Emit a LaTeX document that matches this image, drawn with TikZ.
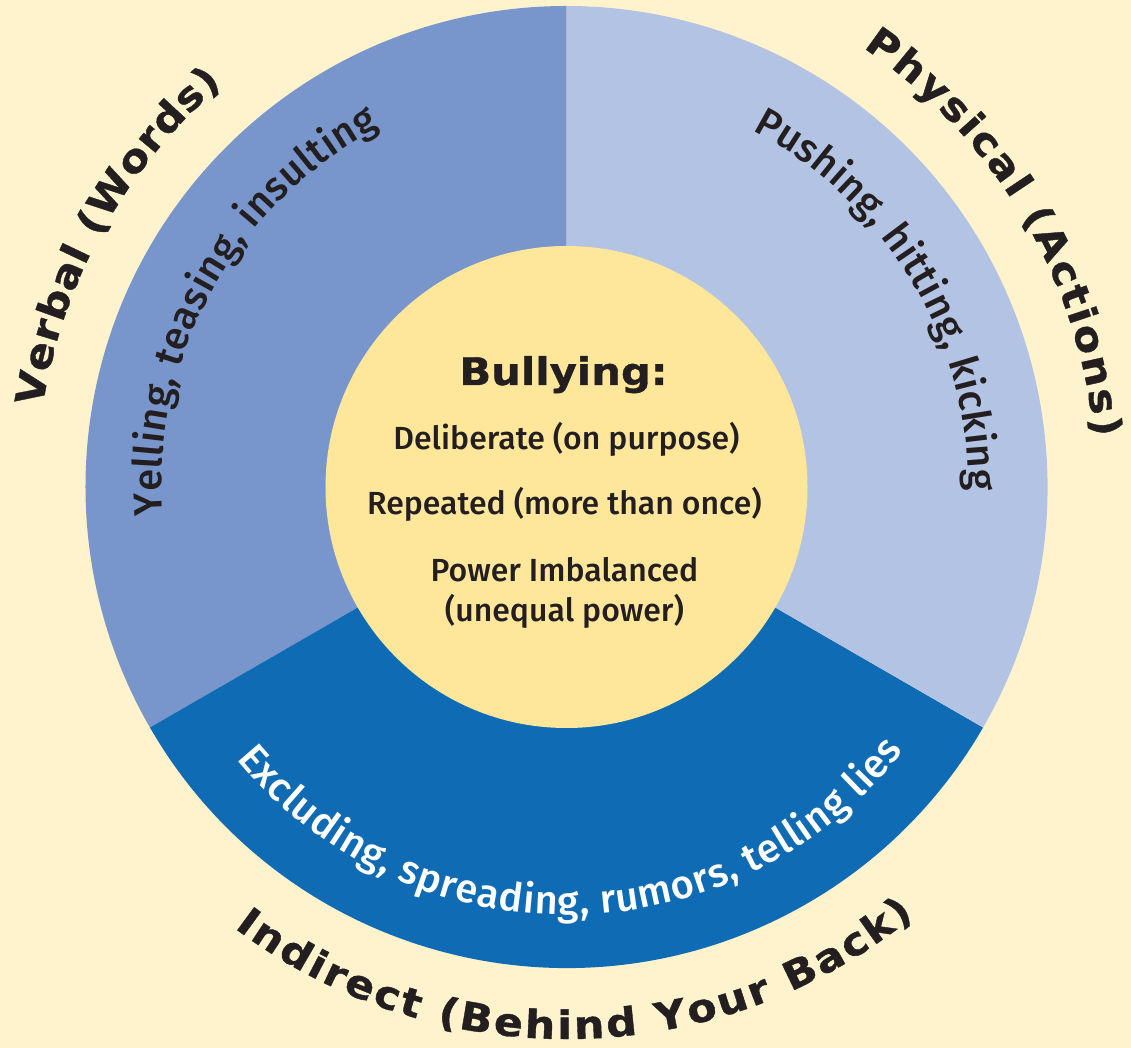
\documentclass[tikz,border=0pt]{standalone}
\usepackage{fontspec}
\usetikzlibrary{decorations.text}
\newfontfamily\widefont[FakeStretch=1.1,FakeBold=1]{DejaVu Sans Bold}
\IfFontExistsTF{Fira Sans Medium}{\newfontfamily\arcfont{Fira Sans Medium}}{\newfontfamily\arcfont{Fira Sans}}
\definecolor{bg}{HTML}{FFF3CD}
\definecolor{verbal}{HTML}{7896CC}
\definecolor{physical}{HTML}{B3C3E3}
\definecolor{indirect}{HTML}{0F6BB4}
\definecolor{core}{HTML}{FEE69A}
\definecolor{txt}{HTML}{231F20}
\tikzset{
  outerlabel/.style={decorate, decoration={text along path, text align=fit to path, text color=txt,
    text={|\widefont\fontsize{39pt}{39pt}\selectfont|#1}}},
  innerlabel/.style 2 args={decorate, decoration={text along path, text align=fit to path, text color=#1,
    text={|\arcfont\fontsize{40pt}{40pt}\selectfont|#2}}},
  coretext/.style={anchor=base, text=txt, inner sep=0pt, font=\arcfont\fontsize{32pt}{32pt}\selectfont},
}
\begin{document}
\begin{tikzpicture}
\useasboundingbox (-566.5pt,-561pt) rectangle (564.5pt,487pt);
\fill[bg] (-566.5pt,-561pt) rectangle (564.5pt,487pt);
% sectors
\fill[verbal] (0,0) -- (90:481pt) arc[start angle=90, end angle=210, radius=481pt] -- cycle;
\fill[indirect] (0,0) -- (210:481pt) arc[start angle=210, end angle=330, radius=481pt] -- cycle;
\fill[physical] (0,0) -- (330:481pt) arc[start angle=330, end angle=450, radius=481pt] -- cycle;
% core
\node[circle, fill=core, minimum size=482pt, inner sep=0pt] (core) at (0,0) {};
\node[coretext] (title) at (-3pt,102pt) {\widefont\fontsize{38pt}{38pt}\selectfont Bullying:};
\node[coretext] (l1) at (0pt,37pt) {Deliberate (on purpose)};
\node[coretext] (l2) at (-2pt,-28pt) {Repeated (more than once)};
\node[coretext] (l3) at (-2pt,-95pt) {Power Imbalanced};
\node[coretext] (l4) at (-2pt,-135pt) {(unequal power)};
% inner arc texts
\path[innerlabel={txt}{Yelling, teasing, insulting}] (184:405pt) arc[start angle=184, end angle=117.5, radius=405pt];
\path[innerlabel={txt}{Pushing, hitting, kicking}] (62.5:402pt) arc[start angle=62.5, end angle=-0.5, radius=402pt];
\path[innerlabel={white}{Excluding, spreading, rumors, telling lies}] (219.5:428pt) arc[start angle=219.5, end angle=322, radius=428pt];
% outer labels
\path[outerlabel={Verbal (Words)}] (171.3:530pt) arc[start angle=171.3, end angle=130.5, radius=530pt];
\path[outerlabel={Physical (Actions)}] (56:530pt) arc[start angle=56, end angle=5.4, radius=530pt];
\path[outerlabel={Indirect (Behind Your Back)}] (233:552pt) arc[start angle=233, end angle=309, radius=552pt];
\end{tikzpicture}
\end{document}
